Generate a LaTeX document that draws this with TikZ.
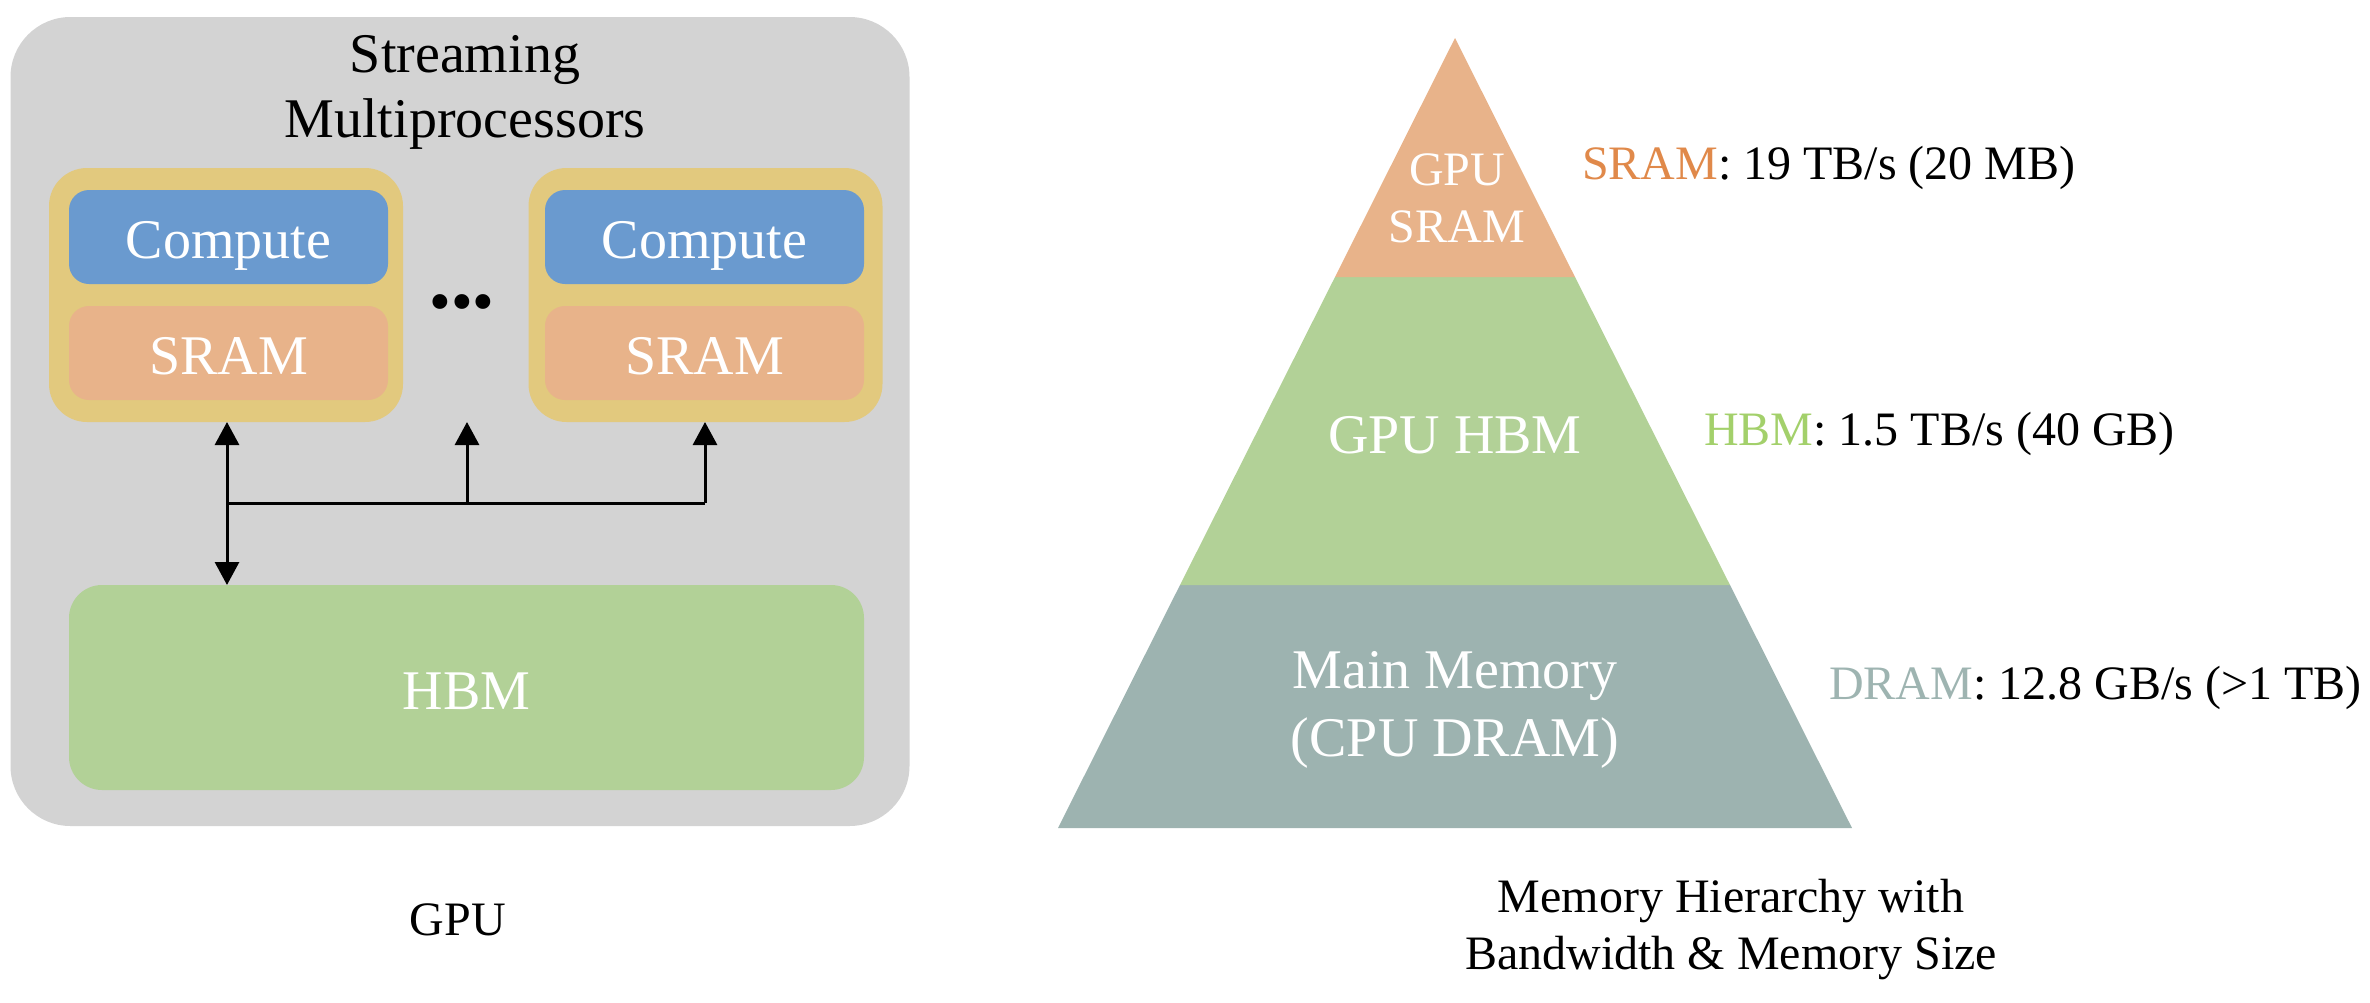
\documentclass[tikz,border=0pt]{standalone}
\usepackage{fontspec}
\setmainfont{Liberation Serif}
\usetikzlibrary{arrows.meta}
\definecolor{panelgray}{HTML}{D3D3D3}
\definecolor{smgold}{HTML}{E2C97E}
\definecolor{compblue}{HTML}{6A9ACF}
\definecolor{sramsalmon}{HTML}{E8B38A}
\definecolor{hbmgreen}{HTML}{B2D197}
\definecolor{dramgray}{HTML}{9DB3B0}
\definecolor{sramtxt}{HTML}{E0894A}
\definecolor{hbmtxt}{HTML}{A3D06B}
\definecolor{dramtxt}{HTML}{9EB4B1}
\tikzset{
  box/.style={inner sep=0pt, outer sep=0pt},
  boxtxt/.style={font=\fontsize{56}{65}\selectfont, text=white, text height=43pt, text depth=0pt},
  bigtxt/.style={font=\fontsize{56}{65}\selectfont},
  midtxt/.style={font=\fontsize{48}{57}\selectfont},
  link/.style={line width=3pt, draw=black},
  tip/.style={-{Triangle[length=23pt,width=24pt]}},
  tips/.style={{Triangle[length=23pt,width=24pt]}-{Triangle[length=23pt,width=24pt]}},
}
\begin{document}
\begin{tikzpicture}[x=1pt,y=-1pt]
\useasboundingbox (0,0) rectangle (2370,1002);
% left panel
\node[box, fill=panelgray, rounded corners=60pt, minimum width=899pt, minimum height=809pt] (panel) at (460,421.5) {};
\node[bigtxt, align=center, text=black] (smtitle) at (465,92) {Streaming\\Multiprocessors};
\node[box, fill=smgold, rounded corners=38pt, minimum width=354pt, minimum height=254pt] (sm1) at (226,295) {};
\node[box, fill=smgold, rounded corners=38pt, minimum width=354pt, minimum height=254pt] (sm2) at (705.5,295) {};
\node[box, fill=compblue, rounded corners=20pt, minimum width=319pt, minimum height=94pt, boxtxt] (c1) at (228.5,237) {Compute};
\node[box, fill=sramsalmon, rounded corners=20pt, minimum width=319pt, minimum height=94pt, boxtxt] (s1) at (228.5,353) {SRAM};
\node[box, fill=compblue, rounded corners=20pt, minimum width=319pt, minimum height=94pt, boxtxt] (c2) at (704.5,237) {Compute};
\node[box, fill=sramsalmon, rounded corners=20pt, minimum width=319pt, minimum height=94pt, boxtxt] (s2) at (704.5,353) {SRAM};
\node[font=\fontsize{62}{62}\selectfont] (dots) at (462,309) {•••};
\node[box, fill=hbmgreen, rounded corners=33pt, minimum width=795pt, minimum height=205pt, boxtxt] (hbm) at (466.5,687.5) {HBM};
% connectors
\coordinate (j1) at (227,503);
\coordinate (j2) at (467,503);
\coordinate (j3) at (705,503);
\coordinate (t2) at (467,422);
\draw[link, tips] (sm1.south -| j1) -- (hbm.north -| j1);
\draw[link] (j1) -- (j3);
\draw[link, tip] (j2) -- (t2);
\draw[link, tip] (j3) -- (sm2.south -| j3);
\node[midtxt] (gpucap) at (458,920) {GPU};
% pyramid
\fill[dramgray] (1058,828) -- (1852,828) -- (1730,585) -- (1180,585) -- cycle;
\fill[hbmgreen] (1180,585) -- (1730,585) -- (1575,277) -- (1335,277) -- cycle;
\fill[sramsalmon] (1335,277) -- (1575,277) -- (1455,38) -- cycle;
\node[midtxt, align=center, text=white] (pt) at (1457,198) {GPU\\SRAM};
\node[bigtxt, text=white] (pm) at (1455,435) {GPU HBM};
\node[font=\fontsize{56}{68}\selectfont, align=center, text=white] (pb) at (1455,710) {Main Memory\\(CPU DRAM)};
\node[midtxt, anchor=west, inner sep=0pt] (l1) at (1582,168) {\textcolor{sramtxt}{SRAM}: 19 TB/s (20 MB)};
\node[midtxt, anchor=west, inner sep=0pt] (l2) at (1704,434) {\textcolor{hbmtxt}{HBM}: 1.5 TB/s (40 GB)};
\node[midtxt, anchor=west, inner sep=0pt] (l3) at (1829,688) {\textcolor{dramtxt}{DRAM}: 12.8 GB/s (>1 TB)};
\node[midtxt, align=center] (pcap) at (1731,930) {Memory Hierarchy with\\Bandwidth \& Memory Size};
\end{tikzpicture}
\end{document}
